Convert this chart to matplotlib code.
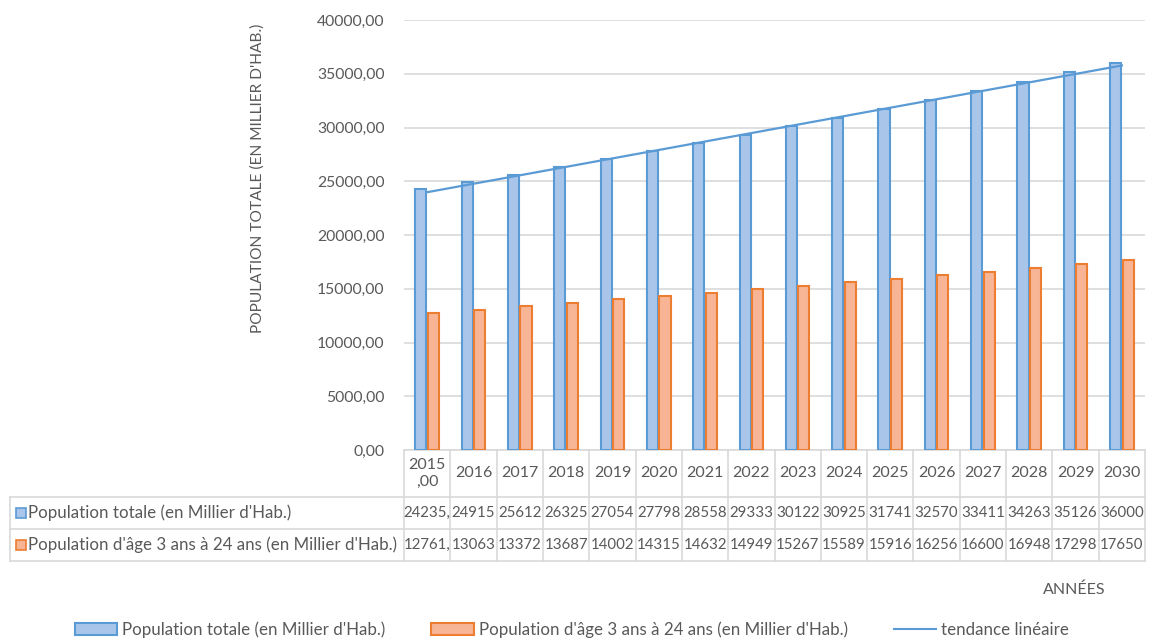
import numpy as np
import matplotlib.pyplot as plt
from matplotlib.patches import Patch, Rectangle
from matplotlib.lines import Line2D
from matplotlib.transforms import blended_transform_factory

plt.rcParams['font.family'] = ['Lato', 'DejaVu Sans']

annees = ['2015\n,00', '2016', '2017', '2018', '2019', '2020', '2021', '2022',
          '2023', '2024', '2025', '2026', '2027', '2028', '2029', '2030']
pop_totale = [24235, 24915, 25612, 26325, 27054, 27798, 28558, 29333,
              30122, 30925, 31741, 32570, 33411, 34263, 35126, 36000]
pop_3_24 = [12761, 13063, 13372, 13687, 14002, 14315, 14632, 14949,
            15267, 15589, 15916, 16256, 16600, 16948, 17298, 17650]
nom_totale = "Population totale (en Millier d'Hab.)"
nom_3_24 = "Population d'âge 3 ans à 24 ans (en Millier d'Hab.)"

bleu, bleu_fond = '#5b9bd5', '#a9c6ea'
orange, orange_fond = '#ed7d31', '#f7b596'
gris_txt = '#595959'
gris_ligne = '#d9d9d9'

fig = plt.figure(figsize=(11.5, 6.39), dpi=100)
ax = fig.add_axes([404 / 1150, 189 / 639, 741 / 1150, 430 / 639])

x = np.arange(len(annees))
w = 0.24
ax.bar(x - 0.135, pop_totale, w, color=bleu_fond, edgecolor=bleu, linewidth=1.5, zorder=3)
ax.bar(x + 0.135, pop_3_24, w, color=orange_fond, edgecolor=orange, linewidth=1.5, zorder=3)

# tendance linéaire (moindres carrés sur la population totale)
a, b = np.polyfit(x, pop_totale, 1)
ax.plot(x, a * x + b, color=bleu, lw=1.6, zorder=4)

ax.set_xlim(-0.5, len(annees) - 0.5)
ax.set_ylim(0, 40000)
ax.set_yticks(np.arange(0, 40001, 5000))
ax.set_yticklabels([f"{v:.2f}".replace('.', ',') for v in np.arange(0, 40001, 5000)])
ax.tick_params(axis='y', length=0, pad=14, labelsize=11.3, labelcolor=gris_txt)
ax.set_xticks([])
ax.grid(axis='y', color=gris_ligne, lw=1.2, zorder=0)
for s in ['left', 'right', 'top']:
    ax.spines[s].set_visible(False)
ax.spines['bottom'].set_color(gris_ligne)
ax.spines['bottom'].set_linewidth(1.2)

# tableau de données sous l'axe
tc = blended_transform_factory(ax.transData, ax.transAxes)
tf = blended_transform_factory(fig.transFigure, ax.transAxes)
y_hdr, y_r1, y_r2 = -0.1093, -0.1837, -0.2581
x_gauche = 10 / 1150
kw = dict(color=gris_ligne, lw=1.2, clip_on=False)
for i in range(len(annees) + 1):
    ax.plot([i - 0.5, i - 0.5], [0, y_r2], transform=tc, **kw)
for yy in [y_hdr, y_r1, y_r2]:
    ax.plot([x_gauche, 1145 / 1150], [yy, yy], transform=tf, **kw)
ax.plot([x_gauche, x_gauche], [y_hdr, y_r2], transform=tf, **kw)

for i, lab in enumerate(annees):
    ax.text(i, y_hdr / 2, lab, transform=tc, ha='center', va='center',
            fontsize=11.5, color=gris_txt, linespacing=1.3)

# la première colonne est tronquée à la largeur de la cellule
for serie, (y0, y1) in [(pop_totale, (y_hdr, y_r1)), (pop_3_24, (y_r1, y_r2))]:
    for i, v in enumerate(serie):
        txt = f"{v}," if i == 0 else str(v)
        t = ax.text(i, (y0 + y1) / 2, txt, transform=tc, ha='center', va='center',
                    fontsize=10.8, color=gris_txt, clip_on=True)
        t.set_clip_path(Rectangle((i - 0.5, y1), 1, y0 - y1, transform=tc))

for nom, fond, bord, (y0, y1) in [(nom_totale, bleu_fond, bleu, (y_hdr, y_r1)),
                                   (nom_3_24, orange_fond, orange, (y_r1, y_r2))]:
    ym = (y0 + y1) / 2
    ax.plot([21 / 1150], [ym], marker='s', ms=7, mfc=fond, mec=bord, mew=1.2,
            transform=tf, clip_on=False)
    ax.text(28 / 1150, ym, nom, transform=tf, ha='left', va='center',
            fontsize=12.2, color=gris_txt)

fig.text(258 / 1150, 1 - 178 / 639, "POPULATION TOTALE (EN MILLIER D'HAB.)",
         rotation=90, ha='center', va='center', fontsize=11.2, color=gris_txt)
fig.text(1074 / 1150, 1 - 590 / 639, 'ANNÉES', ha='center', va='center',
         fontsize=11.5, color=gris_txt)

handles = [Patch(facecolor=bleu_fond, edgecolor=bleu, lw=1.5),
           Patch(facecolor=orange_fond, edgecolor=orange, lw=1.5),
           Line2D([], [], color=bleu, lw=1.5)]
leg = fig.legend(handles, [nom_totale, nom_3_24, 'tendance linéaire'],
                 loc='center', bbox_to_anchor=(572 / 1150, 1 - 630 / 639), ncol=3,
                 frameon=False, fontsize=12.2, handlelength=2.5, handleheight=0.7,
                 handletextpad=0.3, columnspacing=2.7)
for t in leg.get_texts():
    t.set_color(gris_txt)

fig.savefig('out.png', dpi=100)
